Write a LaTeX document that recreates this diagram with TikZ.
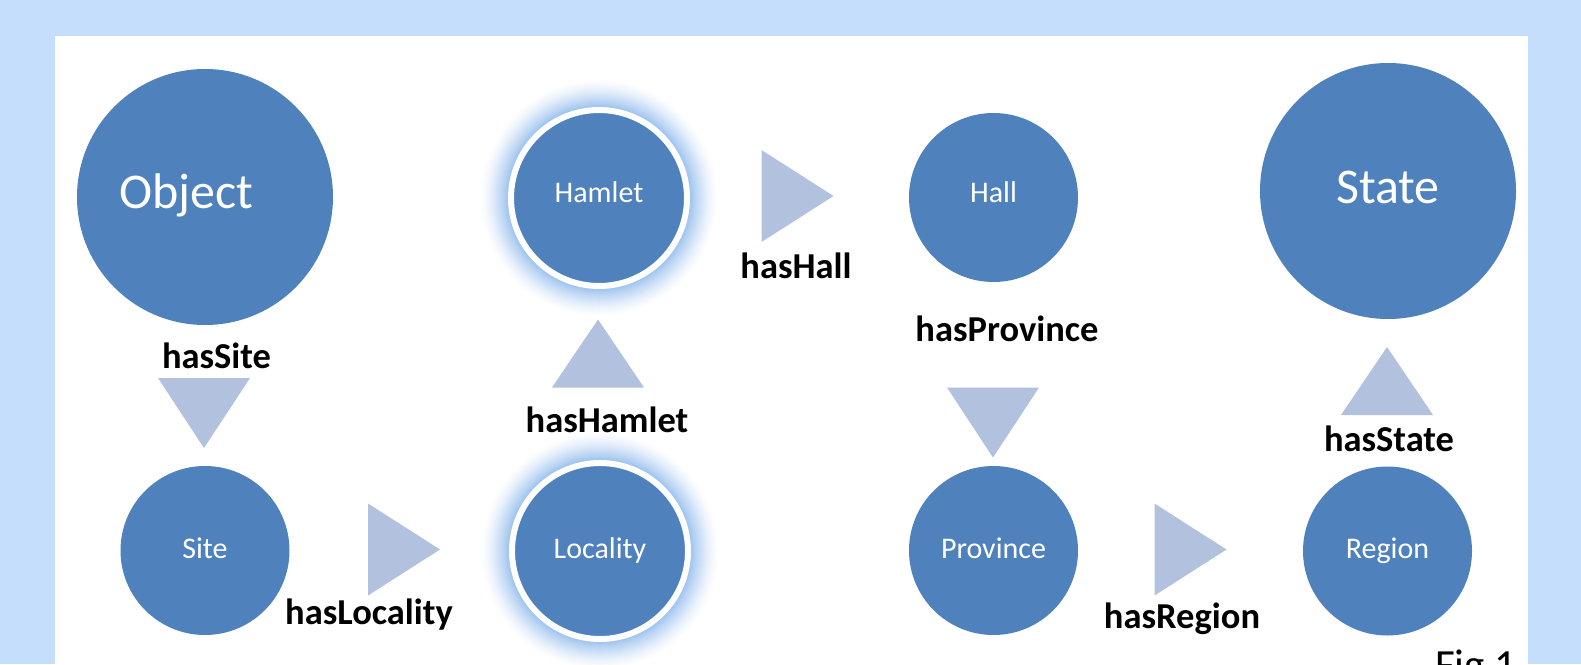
\documentclass[tikz,border=0pt]{standalone}
\usepackage{fontspec}
\setmainfont{Carlito}
\definecolor{pagebg}{HTML}{C5DEFC}
\definecolor{nodeblue}{HTML}{4F81BD}
\definecolor{arrowblue}{HTML}{B2C1DD}
\definecolor{glowblue}{HTML}{9DC3EF}
\tikzset{
  conc/.style={circle, fill=nodeblue, inner sep=0pt, text=white,
    text depth=0pt, font=\fontsize{30pt}{36pt}\selectfont},
  smallc/.style={conc, minimum size=169pt, text height=15pt},
  ringc/.style={conc, minimum size=176pt, draw=white, line width=6pt, text height=15pt},
  bigc/.style={conc, minimum size=256pt, text height=25pt,
    font=\fontsize{50pt}{60pt}\selectfont},
  rel/.style={anchor=base, inner sep=0pt, text=black,
    font=\bfseries\fontsize{36.5pt}{42pt}\selectfont},
  pics/pointdown/.style={code={\fill[arrowblue] (-46,-35) -- (46,-35) -- (0,35) -- cycle;}},
  pics/pointup/.style={code={\fill[arrowblue] (-46,34) -- (46,34) -- (0,-34) -- cycle;}},
  pics/pointright/.style={code={\fill[arrowblue] (-36,-46) -- (-36,46) -- (36,0) -- cycle;}},
}
\begin{document}
\begin{tikzpicture}[x=1pt,y=-1pt]
  % page and panel
  \fill[pagebg] (0,0) rectangle (1581,664);
  \useasboundingbox (0,0) rectangle (1581,664);
  \fill[white] (55,36) rectangle (1528,720);

  % soft halo behind the two highlighted concepts
  \coordinate (hamletpos) at (599,198);
  \coordinate (localitypos) at (600,551);
  \foreach \c in {hamletpos,localitypos}{
    \foreach \k in {0,...,28}{
      \pgfmathsetmacro\p{100*(\k/28)^1.4}
      \fill[glowblue!\p!white] (\c) circle[radius=119-\k];
    }
  }

  % concepts
  \node[bigc, text width=172pt, align=left, text height=22pt] (object) at (205,197) {Object};
  \node[bigc] (state) at (1388,191) {State};
  \node[ringc, text height=8pt] (hamlet) at (hamletpos) {Hamlet};
  \node[ringc] (locality) at (localitypos) {Locality};
  \node[smallc, text height=9pt] (hall) at (993.5,197.5) {Hall};
  \node[smallc] (site) at (205,550.5) {Site};
  \node[smallc] (province) at (993.5,550.5) {Province};
  \node[smallc] (region) at (1387.5,551) {Region};

  % relation arrows
  \pic at (204,413) {pointdown};
  \pic at (404,549.5) {pointright};
  \pic at (598,353.5) {pointup};
  \pic at (797.5,196) {pointright};
  \pic at (993,422.5) {pointdown};
  \pic at (1190.5,549.5) {pointright};
  \pic at (1387,381) {pointup};

  % relation names
  \node[rel] (hassite) at (216.5,368) {hasSite};
  \node[rel] (haslocality) at (369,624) {hasLocality};
  \node[rel] (hashamlet) at (607,432) {hasHamlet};
  \node[rel] (hashall) at (796,278) {hasHall};
  \node[rel] (hasprovince) at (1007,341) {hasProvince};
  \node[rel] (hasregion) at (1182,628) {hasRegion};
  \node[rel] (hasstate) at (1389,451) {hasState};

  % caption
  \node[anchor=base west, inner sep=0pt, font=\fontsize{43pt}{50pt}\selectfont] (caption) at (1435,679) {Fig 1};
\end{tikzpicture}
\end{document}
